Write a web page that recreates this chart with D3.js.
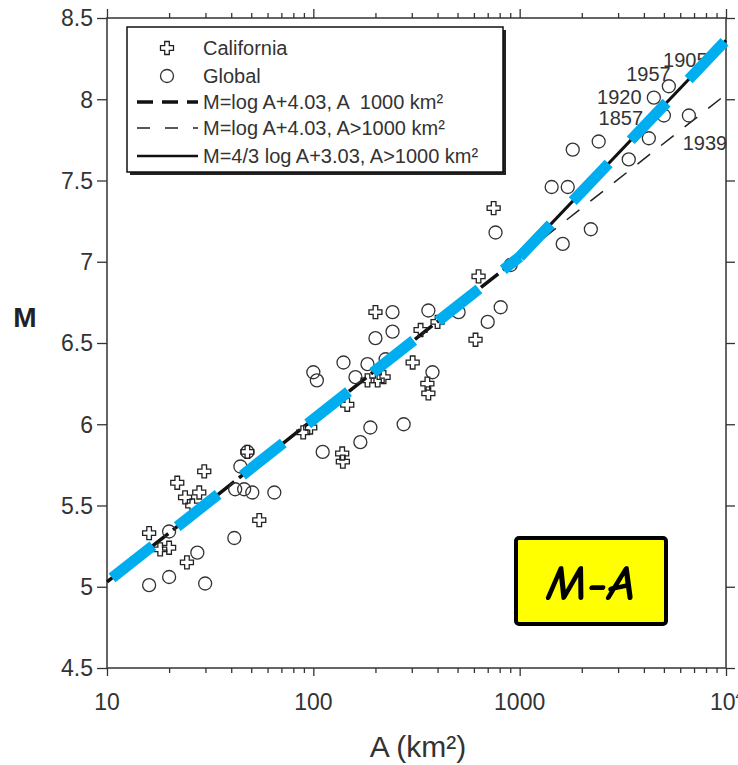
<!DOCTYPE html>
<html><head><meta charset="utf-8">
<script src="https://cdn.jsdelivr.net/npm/d3@7"></script>
<style>body{margin:0;background:#fff} svg{display:block}</style>
</head><body><svg id="c" width="738" height="765"></svg>
<script>
// ---------- data ----------
const xMajorTicks = [10, 100, 1000, 10000];
const xTickLabels = ["10", "100", "1000", "10"];
const xMinorTicks = [20,30,40,50,60,70,80,90,200,300,400,500,600,700,800,900,2000,3000,4000,5000,6000,7000,8000,9000];
const yTicks = [4.5, 5, 5.5, 6, 6.5, 7, 7.5, 8, 8.5];
const yTickLabels = ["4.5","5","5.5","6","6.5","7","7.5","8","8.5"];

const californiaA = [16.0,18.1,20.0,24.4,21.9,23.9,25.9,28.0,29.6,47.9,54.7,89.3,96.6,138,139,146,183,205,219,200,303,331,400,357,361,611,632,748];
const californiaM = [5.33,5.23,5.24,5.15,5.64,5.55,5.50,5.58,5.71,5.83,5.41,5.95,5.98,5.82,5.77,6.12,6.27,6.27,6.29,6.69,6.38,6.58,6.63,6.25,6.19,6.52,6.91,7.33];

const globalA = [16.0,20.0,29.9,20.0,27.4,41.4,44.3,41.8,46.2,50.6,64.7,47.9,100,104,111,140,160,183,224,169,189,274,200,242,242,361,506,378,700,809,904,764,1429,1710,1617,2213,1808,2415,3378,4227,4470,5284,6608,5000];
const globalM = [5.01,5.06,5.02,5.34,5.21,5.30,5.74,5.60,5.60,5.58,5.58,5.83,6.32,6.27,5.83,6.38,6.29,6.37,6.40,5.89,5.98,6.00,6.53,6.57,6.69,6.70,6.69,6.32,6.63,6.72,6.98,7.18,7.46,7.46,7.11,7.20,7.69,7.74,7.63,7.76,8.01,8.08,7.90,7.90];

const yearLabels = ["1905","1957","1920","1857","1939"];
const yearA = [6353, 4207, 3041, 3093, 7907];
const yearM = [8.242, 8.158, 8.014, 7.885, 7.731];

// fit lines (end points)
const smallDashA = [10, 1000],   smallDashM = [5.03, 7.03];
const largeDashA = [1000, 10000], largeDashM = [7.03, 8.03];
const solidA = [1000, 10000],     solidM = [7.03, 8.363];
const blueLowA = [10, 1000],      blueLowM = [5.03, 7.03];
const blueHighA = [1000, 10000],  blueHighM = [7.03, 8.363];

const legendLabels = ["California", "Global", "M=log A+4.03, A  1000 km²", "M=log A+4.03, A>1000 km²", "M=4/3 log A+3.03, A>1000 km²"];
const boxLabel = "M-A";

// ---------- drawing ----------
const svg = d3.select("#c");
const x = d3.scaleLog().domain([10, 10000]).range([107, 726]);
const y = d3.scaleLinear().domain([4.5, 8.5]).range([668, 18]);
const ink = "#333";
const font = "'Liberation Sans', Arial, Helvetica, sans-serif";

function styleAxis(g){
  g.select(".domain").remove();
  g.selectAll("line").attr("stroke", ink).attr("stroke-width", 1.3);
  g.selectAll("text").remove();
}
// ticks
svg.append("g").attr("transform","translate(0,668)").call(d3.axisBottom(x).tickValues(xMajorTicks).tickSize(8)).call(styleAxis);
svg.append("g").attr("transform","translate(0,668)").call(d3.axisBottom(x).tickValues(xMinorTicks).tickSize(5)).call(styleAxis);
svg.append("g").attr("transform","translate(0,18)").call(d3.axisTop(x).tickValues(xMajorTicks).tickSize(9)).call(styleAxis);
svg.append("g").attr("transform","translate(0,18)").call(d3.axisTop(x).tickValues(xMinorTicks).tickSize(5)).call(styleAxis);
svg.append("g").attr("transform","translate(107,0)").call(d3.axisLeft(y).tickValues(yTicks).tickSize(10)).call(styleAxis);
svg.append("g").attr("transform","translate(726,0)").call(d3.axisRight(y).tickValues(yTicks).tickSize(9)).call(styleAxis);

// frame
svg.append("rect").attr("x",107).attr("y",18).attr("width",726-107).attr("height",668-18)
  .attr("fill","none").attr("stroke",ink).attr("stroke-width",1.5);

// tick labels
svg.append("g").selectAll("text").data(yTicks).join("text")
  .attr("x",93).attr("y",d=>y(d)).attr("dy","0.36em").attr("text-anchor","end")
  .attr("font-family",font).attr("font-size",23).attr("fill",ink)
  .text((d,i)=>yTickLabels[i]);
const xl = svg.append("g").selectAll("text").data(xMajorTicks).join("text")
  .attr("x",d=>x(d)).attr("y",710).attr("text-anchor","middle")
  .attr("font-family",font).attr("font-size",23).attr("fill",ink)
  .text((d,i)=>xTickLabels[i]);
xl.filter((d,i)=>i===3).attr("text-anchor","start").attr("x",d=>x(d)-16)
  .append("tspan").attr("font-size",13).attr("dy",-10).text("4");

// axis titles
svg.append("text").attr("x",25).attr("y",327).attr("text-anchor","middle")
  .attr("font-family",font).attr("font-weight","bold").attr("font-size",28).attr("fill","#222").text("M");
svg.append("text").attr("x",418).attr("y",757).attr("text-anchor","middle")
  .attr("font-family",font).attr("font-size",30).attr("fill",ink).text("A (km²)");

// fit lines
const lineGen = d3.line().x(d=>x(d[0])).y(d=>y(d[1]));
svg.append("path").attr("d",lineGen(d3.zip(smallDashA,smallDashM))).attr("fill","none")
  .attr("stroke","#111").attr("stroke-width",3.5).attr("stroke-dasharray","22,6");
svg.append("path").attr("d",lineGen(d3.zip(largeDashA,largeDashM))).attr("fill","none")
  .attr("stroke","#222").attr("stroke-width",1.5).attr("stroke-dasharray","16,14");
svg.append("path").attr("d",lineGen(d3.zip(solidA,solidM))).attr("fill","none")
  .attr("stroke","#111").attr("stroke-width",3);

// points
const crossPath = "M-2.3,-6.5L2.3,-6.5L2.3,-2.3L6.5,-2.3L6.5,2.3L2.3,2.3L2.3,6.5L-2.3,6.5L-2.3,2.3L-6.5,2.3L-6.5,-2.3L-2.3,-2.3Z";
svg.append("g").selectAll("circle").data(d3.zip(globalA,globalM)).join("circle")
  .attr("cx",d=>x(d[0])).attr("cy",d=>y(d[1])).attr("r",6.5)
  .attr("fill","none").attr("stroke",ink).attr("stroke-width",1.3);
svg.append("g").selectAll("path").data(d3.zip(californiaA,californiaM)).join("path")
  .attr("transform",d=>`translate(${x(d[0])},${y(d[1])})`).attr("d",crossPath)
  .attr("fill","none").attr("stroke","#222").attr("stroke-width",1.3);

// year labels
svg.append("g").selectAll("text").data(yearLabels).join("text")
  .attr("x",(d,i)=>x(yearA[i])).attr("y",(d,i)=>y(yearM[i])).attr("dy","0.36em")
  .attr("text-anchor","middle").attr("font-family",font).attr("font-size",20).attr("fill",ink)
  .text(d=>d);

// blue overlay line
svg.append("path").attr("d",lineGen(d3.zip(blueLowA,blueLowM))).attr("fill","none")
  .attr("stroke","#00AEEF").attr("stroke-width",11).attr("stroke-linecap","butt")
  .attr("stroke-dasharray","52,31").attr("stroke-dashoffset",76.6);
svg.append("path").attr("d",lineGen(d3.zip(blueHighA,blueHighM))).attr("fill","none")
  .attr("stroke","#00AEEF").attr("stroke-width",11).attr("stroke-linecap","butt")
  .attr("stroke-dasharray","52,32").attr("stroke-dashoffset",7);

// legend
const lg = svg.append("g");
lg.append("rect").attr("x",130).attr("y",30).attr("width",376).attr("height",145).attr("fill","#222");
lg.append("rect").attr("x",127).attr("y",27).attr("width",376).attr("height",145)
  .attr("fill","#fff").attr("stroke","#111").attr("stroke-width",1.5);
const rowY = [48, 76, 102, 128, 156];
lg.append("path").attr("transform",`translate(167,${rowY[0]})`).attr("d",crossPath)
  .attr("fill","none").attr("stroke","#222").attr("stroke-width",1.3);
lg.append("circle").attr("cx",167).attr("cy",rowY[1]).attr("r",6.5)
  .attr("fill","none").attr("stroke",ink).attr("stroke-width",1.3);
lg.append("line").attr("x1",137).attr("x2",198).attr("y1",rowY[2]).attr("y2",rowY[2])
  .attr("stroke","#111").attr("stroke-width",3.5).attr("stroke-dasharray","16,9");
lg.append("line").attr("x1",137).attr("x2",198).attr("y1",rowY[3]).attr("y2",rowY[3])
  .attr("stroke","#222").attr("stroke-width",1.5).attr("stroke-dasharray","13,15");
lg.append("line").attr("x1",137).attr("x2",198).attr("y1",rowY[4]).attr("y2",rowY[4])
  .attr("stroke","#111").attr("stroke-width",2.5);
lg.selectAll("text").data(legendLabels).join("text")
  .attr("x",203).attr("y",(d,i)=>rowY[i]).attr("dy","0.36em")
  .attr("font-family",font).attr("font-size",20).attr("fill",ink)
  .style("white-space","pre").text(d=>d);

// M-A box
svg.append("rect").attr("x",516).attr("y",538).attr("width",150).attr("height",86).attr("rx",3)
  .attr("fill","#FFFF00").attr("stroke","#000").attr("stroke-width",4);
svg.append("text").attr("x",591).attr("y",600).attr("text-anchor","middle")
  .attr("font-family","'Comic Sans MS','Comic Neue','DejaVu Sans Condensed','DejaVu Sans',sans-serif")
  .attr("font-style","oblique").attr("font-weight","bold")
  .attr("font-size",50).attr("fill","#000").text(boxLabel);
</script></body></html>
